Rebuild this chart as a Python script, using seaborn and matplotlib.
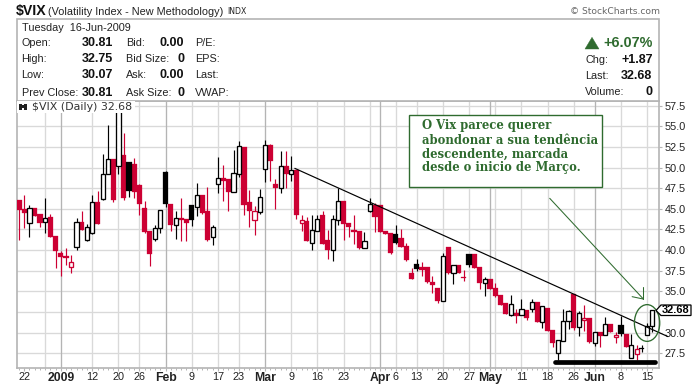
import numpy as np
import pandas as pd
import matplotlib
matplotlib.use("Agg")
import matplotlib.pyplot as plt
from matplotlib.patches import Rectangle, Ellipse, Polygon
import seaborn as sns

opens = [46.06,44.97,43.23,45.05,44.37,43.36,44.01,41.70,39.64,39.28,37.99,40.33,43.40,41.18,42.02,45.82,46.23,49.18,51.04,50.14,
51.52,50.67,50.43,47.88,45.09,42.31,41.30,42.63,49.46,45.58,43.07,43.84,43.76,45.46,45.17,46.67,44.69,41.54,48.04,48.69,
48.61,47.07,49.26,52.49,45.82,43.68,44.65,49.87,52.73,47.99,47.56,50.18,49.26,49.70,43.32,43.52,40.90,42.35,44.21,41.22,
40.05,43.60,45.94,43.28,42.43,42.31,40.29,44.77,45.46,45.46,42.31,42.06,41.90,41.46,40.49,37.23,38.27,37.94,37.94,36.12,
35.41,33.87,40.37,37.27,38.19,36.73,39.52,39.52,37.94,36.04,36.50,35.41,34.56,33.55,32.10,32.38,32.10,32.73,32.90,33.71,
31.29,32.98,30.32,27.49,29.03,31.37,34.68,30.72,31.49,31.76,28.70,30.07,29.67,31.04,29.43,30.92,29.83,26.88,27.37,28.13,
29.67,30.81]
highs = [46.06,46.67,45.46,45.05,44.37,46.31,44.37,41.70,39.88,40.25,39.40,43.88,44.69,43.11,46.67,47.15,51.64,55.16,51.04,58.60,
54.19,50.67,51.16,47.99,45.94,42.31,43.03,44.81,49.58,45.58,44.69,46.31,43.76,45.46,48.12,46.67,47.64,43.03,51.28,50.31,
48.61,52.08,53.21,52.49,47.27,45.33,47.40,53.34,52.85,48.61,51.96,51.96,51.40,49.70,44.25,44.01,44.25,44.25,44.69,42.43,
44.25,47.52,45.94,43.28,44.25,42.31,42.19,46.31,45.70,45.46,42.31,42.06,43.03,42.55,40.85,37.82,38.92,38.55,37.94,36.86,
35.41,39.64,40.37,38.15,38.19,37.58,39.52,39.52,37.94,36.73,36.50,36.05,34.56,33.55,34.56,32.85,34.07,32.73,34.07,33.71,
33.19,32.98,30.32,29.11,32.85,32.73,34.68,32.61,33.35,31.76,30.03,30.07,31.89,31.04,30.07,32.00,29.83,29.83,28.50,28.50,
31.16,32.75]
lows = [41.22,42.67,41.58,44.17,42.79,42.06,41.58,37.82,36.86,38.19,37.23,40.01,42.43,41.06,41.90,43.11,46.11,49.18,45.82,49.26,
46.06,46.43,46.31,44.25,42.06,38.07,41.10,42.06,45.21,42.31,41.34,41.10,41.10,42.87,44.13,44.37,41.10,40.61,46.91,45.94,
44.73,47.07,48.89,44.25,42.79,41.82,44.37,48.25,48.37,44.97,46.91,47.52,48.37,43.76,42.31,41.10,40.01,42.35,40.73,38.92,
38.67,43.03,41.22,41.58,40.73,40.13,40.29,44.65,42.19,42.19,41.98,39.52,40.73,40.37,38.67,36.50,37.46,36.86,36.00,34.80,
33.59,33.87,37.07,35.89,37.19,36.25,37.94,37.78,35.28,34.44,35.28,34.32,33.35,32.30,31.98,31.16,32.10,31.52,32.55,31.29,
30.56,30.20,28.26,26.68,29.03,30.44,30.32,29.59,30.20,28.74,28.38,28.26,29.67,30.07,28.74,29.59,28.26,26.88,26.68,27.70,
29.67,30.07]
closes = [44.85,44.49,45.05,44.17,43.32,43.84,41.58,39.92,39.16,39.08,38.51,43.36,42.43,42.83,45.78,43.11,49.18,51.00,46.06,56.90,
46.31,47.15,47.05,45.58,42.19,39.52,42.63,44.81,45.54,43.03,43.84,43.68,43.28,43.60,46.63,44.49,41.22,42.83,48.69,48.37,
47.03,49.30,52.57,45.46,44.75,44.69,46.39,52.69,50.79,47.52,50.14,49.26,49.66,44.25,43.60,41.10,42.39,43.72,40.73,40.01,
43.72,45.94,43.11,42.79,42.19,40.25,41.06,45.54,44.01,42.19,41.98,39.64,40.85,40.37,38.79,36.50,37.70,37.58,36.12,35.77,
33.83,39.24,37.19,38.15,37.19,36.65,38.19,37.86,36.00,36.45,35.32,34.44,33.35,32.30,33.43,32.05,32.81,31.76,33.67,31.29,
33.19,30.20,28.74,29.11,31.37,32.61,30.60,32.38,31.73,28.86,30.03,29.63,31.00,30.07,29.67,29.79,28.26,28.46,28.03,28.05,
30.81,32.68]

price_ticks = [57.5,55.0,52.5,50.0,47.5,45.0,42.5,40.0,37.5,35.0,32.5,30.0,27.5]
price_labels = ["57.5","55.0","52.5","50.0","47.5","45.0","42.5","40.0","37.5","35.0","","30.0","27.5"]
date_ticks = [1,8,14,19,23,28,33,38,42,47,52,57,62,69,72,76,81,86,90,96,101,106,110,115,120]
date_labels = ["22","2009","12","20","26","Feb","9","17","23","Mar","9","16","23","Apr","6","13","20","27","May","11","18","26","Jun","8","15"]
bold_labels = ["2009","Feb","Mar","Apr","May","Jun"]
month_lines = [8,28,47,69,90,110]
week_lines = [5,14,19,23,33,38,42,52,57,62,67,72,76,81,86,91,96,101,106,115,120]
trend_x = [52.7,124.0]
trend_y = [49.90,29.51]
support_x = [102.4,121.6]
support_y = [26.44,26.44]
arrow_x = [101.4,119.3]
arrow_y = [46.27,34.06]

RED = "#cc0033"
GREEN = "#2f6b2f"
GRID = "#d9d9d9"
FRAME = "#b4b4b4"
SANS = ["Liberation Sans", "DejaVu Sans"]

sns.set_theme(style="white", rc={"axes.edgecolor": FRAME, "axes.linewidth": 1.2})
plt.rcParams["font.family"] = SANS

df = pd.DataFrame({"o": opens, "h": highs, "l": lows, "c": closes})
df["i"] = np.arange(len(df))
prev = df["c"].shift(1).fillna(df["c"] + 1)
df["col"] = np.where(df["c"] < prev, RED, "black")
df["hollow"] = df["c"] > df["o"]

fig = plt.figure(figsize=(7, 3.85), dpi=100, facecolor="white")
W, H = 700.0, 385.0
L, R, T, B = 16.5, 659.0, 100.7, 368.3
ax = fig.add_axes([L/W, 1-B/H, (R-L)/W, (B-T)/H])
ax.set_xlim(-0.478, 122.28)
ax.set_ylim(25.67, 58.10)
ax.set_axisbelow(True)

ax.set_yticks(price_ticks)
ax.set_yticklabels(price_labels)
ax.yaxis.tick_right()
ax.set_xticks(date_ticks)
ax.set_xticklabels(date_labels)
ax.set_xticks(df["i"].values, minor=True)
ax.tick_params(axis="y", which="major", length=2.5, width=0.8, color=FRAME, labelsize=7.8,
               labelcolor="#222222", pad=1.5, right=True)
ax.tick_params(axis="x", which="major", length=2, width=0.8, color=FRAME, labelsize=7.8,
               labelcolor="#222222", pad=0.8, bottom=True)
ax.tick_params(axis="x", which="minor", length=1.2, width=0.7, color=FRAME, bottom=True)
for lab in ax.get_xticklabels():
    if lab.get_text() in bold_labels:
        lab.set_fontweight("bold")
        lab.set_fontsize(8.8)

for v in price_ticks:
    ax.axhline(v, color=GRID, lw=0.95, zorder=0)
for v in week_lines:
    ax.axvline(v, color=GRID, lw=0.95, zorder=0)
for v in month_lines:
    ax.axvline(v, color=FRAME, lw=0.95, zorder=0)

for colr, part in df.groupby("col"):
    ax.vlines(part["i"], part["l"], part["h"], color=colr, lw=0.85, zorder=2)
    solid = part[~part["hollow"]]
    ax.bar(solid["i"], (solid["o"]-solid["c"]).clip(lower=0.12), bottom=solid["c"], width=1.0,
           color=colr, edgecolor=colr, lw=0.2, zorder=3)
    empty = part[part["hollow"]]
    ax.bar(empty["i"], empty["c"]-empty["o"], bottom=empty["o"], width=0.8,
           facecolor="white", edgecolor=colr, lw=0.95, zorder=3)

sns.lineplot(x=trend_x, y=trend_y, color="black", lw=0.85, ax=ax, clip_on=False, zorder=6, errorbar=None)
sns.lineplot(x=support_x, y=support_y, color="black", lw=3.4, ax=ax, zorder=6, errorbar=None,
             solid_capstyle="round")
sns.lineplot(x=arrow_x, y=arrow_y, color=GREEN, lw=0.75, ax=ax, zorder=6, errorbar=None)
ax.set_xlabel("")
ax.set_ylabel("")
ax.plot([119.3, 119.3], [34.06, 35.55], color=GREEN, lw=0.75, zorder=6)
ax.plot([119.3, 117.15], [34.06, 34.35], color=GREEN, lw=0.75, zorder=6)
ax.add_patch(Ellipse((120.0, 31.16), 4.84, 4.45, facecolor="none", edgecolor=GREEN, lw=0.95,
                     zorder=6, clip_on=False))

def fx(x): return x / W
def fy(y): return 1 - y / H

def txt(x, y, s, size=8, weight="normal", color="#111111", ha="left", family=None, z=10):
    fig.text(fx(x), fy(y), s, fontsize=size, fontweight=weight, color=color, ha=ha, va="center",
             family=family if family else SANS, zorder=z)

# header box
fig.add_artist(Rectangle((fx(L), fy(T)), (R-L)/W, (T-19.5)/H, transform=fig.transFigure,
                         facecolor="white", edgecolor=FRAME, lw=1.2))
txt(16, 11.5, "$VIX", 10.2, "bold", "#111111")
txt(48.5, 11.8, "(Volatility Index - New Methodology)", 7.8, color="#222222")
txt(227.5, 11.8, "INDX", 5.6, color="#222222", family="DejaVu Sans")
txt(659.5, 11.3, "© StockCharts.com", 6.6, color="#666666", ha="right", family="DejaVu Sans")
txt(21.5, 28.3, "Tuesday  16-Jun-2009", 7.8, color="#222222")

row_y = [43.3, 59.3, 75.5, 92.5]
txt(21.5, row_y[0], "Open:", 7.8, color="#222222")
txt(21.5, row_y[1], "High:", 7.8, color="#222222")
txt(21.5, row_y[2], "Low:", 7.8, color="#222222")
txt(21.5, row_y[3], "Prev Close:", 7.8, color="#222222")
for y, s in zip(row_y, ["30.81", "32.75", "30.07", "30.81"]):
    txt(113, y, s, 9, "bold", ha="right")
for y, s in zip(row_y, ["Bid:", "Bid Size:", "Ask:", "Ask Size:"]):
    txt(126, y, s, 7.8, color="#222222")
for y, s in zip(row_y, ["0.00", "0", "0.00", "0"]):
    txt(184.5, y, s, 9, "bold", ha="right")
for y, s in zip(row_y, ["P/E:", "EPS:", "Last:", "VWAP:"]):
    txt(195, y, s, 7.8, color="#222222")

fig.add_artist(Polygon([(fx(585), fy(49)), (fx(599), fy(49)), (fx(592), fy(37.3))], closed=True,
                       transform=fig.transFigure, facecolor=GREEN, edgecolor=GREEN, lw=0.3))
txt(652.5, 43.3, "+6.07%", 10.4, "bold", GREEN, ha="right")
for y, s, v in zip([60, 76, 92.3], ["Chg:", "Last:", "Volume:"], ["+1.87", "32.68", "0"]):
    txt(585, y, s, 7.8, color="#222222")
    txt(652.5, y, v, 9, "bold", ha="right")

# series label with its own white patch
fig.add_artist(Rectangle((fx(17.2), fy(113)), 118/W, 12/H, transform=fig.transFigure,
                         facecolor="white", edgecolor="none", zorder=8))
for x0, x1, y0, y1 in [(19.3, 21.8, 104, 110), (24.2, 26.8, 104, 110), (21.5, 24.5, 105, 107.5)]:
    fig.add_artist(Rectangle((fx(x0), fy(y1)), (x1-x0)/W, (y1-y0)/H, transform=fig.transFigure,
                             facecolor="#222222", edgecolor="none", zorder=9))
txt(32, 107.3, "$VIX (Daily) 32.68", 7.9, color="#333333", family="DejaVu Sans")

# comment box
fig.add_artist(Rectangle((fx(409.3), fy(187.3)), 192.4/W, 72/H, transform=fig.transFigure,
                         facecolor="white", edgecolor=GREEN, lw=1.0, zorder=8))
for y, s in zip([126, 140, 154, 167.7],
                ["O Vix parece querer", "abondonar a sua tendência",
                 "descendente, marcada", "desde o inicio de Março."]):
    txt(422.5, y, s, 8.4, "bold", GREEN, family="DejaVu Serif")

# last-price tag
fig.add_artist(Polygon([(fx(656), fy(310.5)), (fx(661), fy(305)), (fx(691), fy(305)),
                        (fx(691), fy(315.5)), (fx(661), fy(315.5))], closed=True,
                       transform=fig.transFigure, facecolor="white", edgecolor="black", lw=0.9, zorder=8))
txt(676, 310.4, "32.68", 7.9, "bold", "black", ha="center")

fig.savefig("out.png", dpi=100)
